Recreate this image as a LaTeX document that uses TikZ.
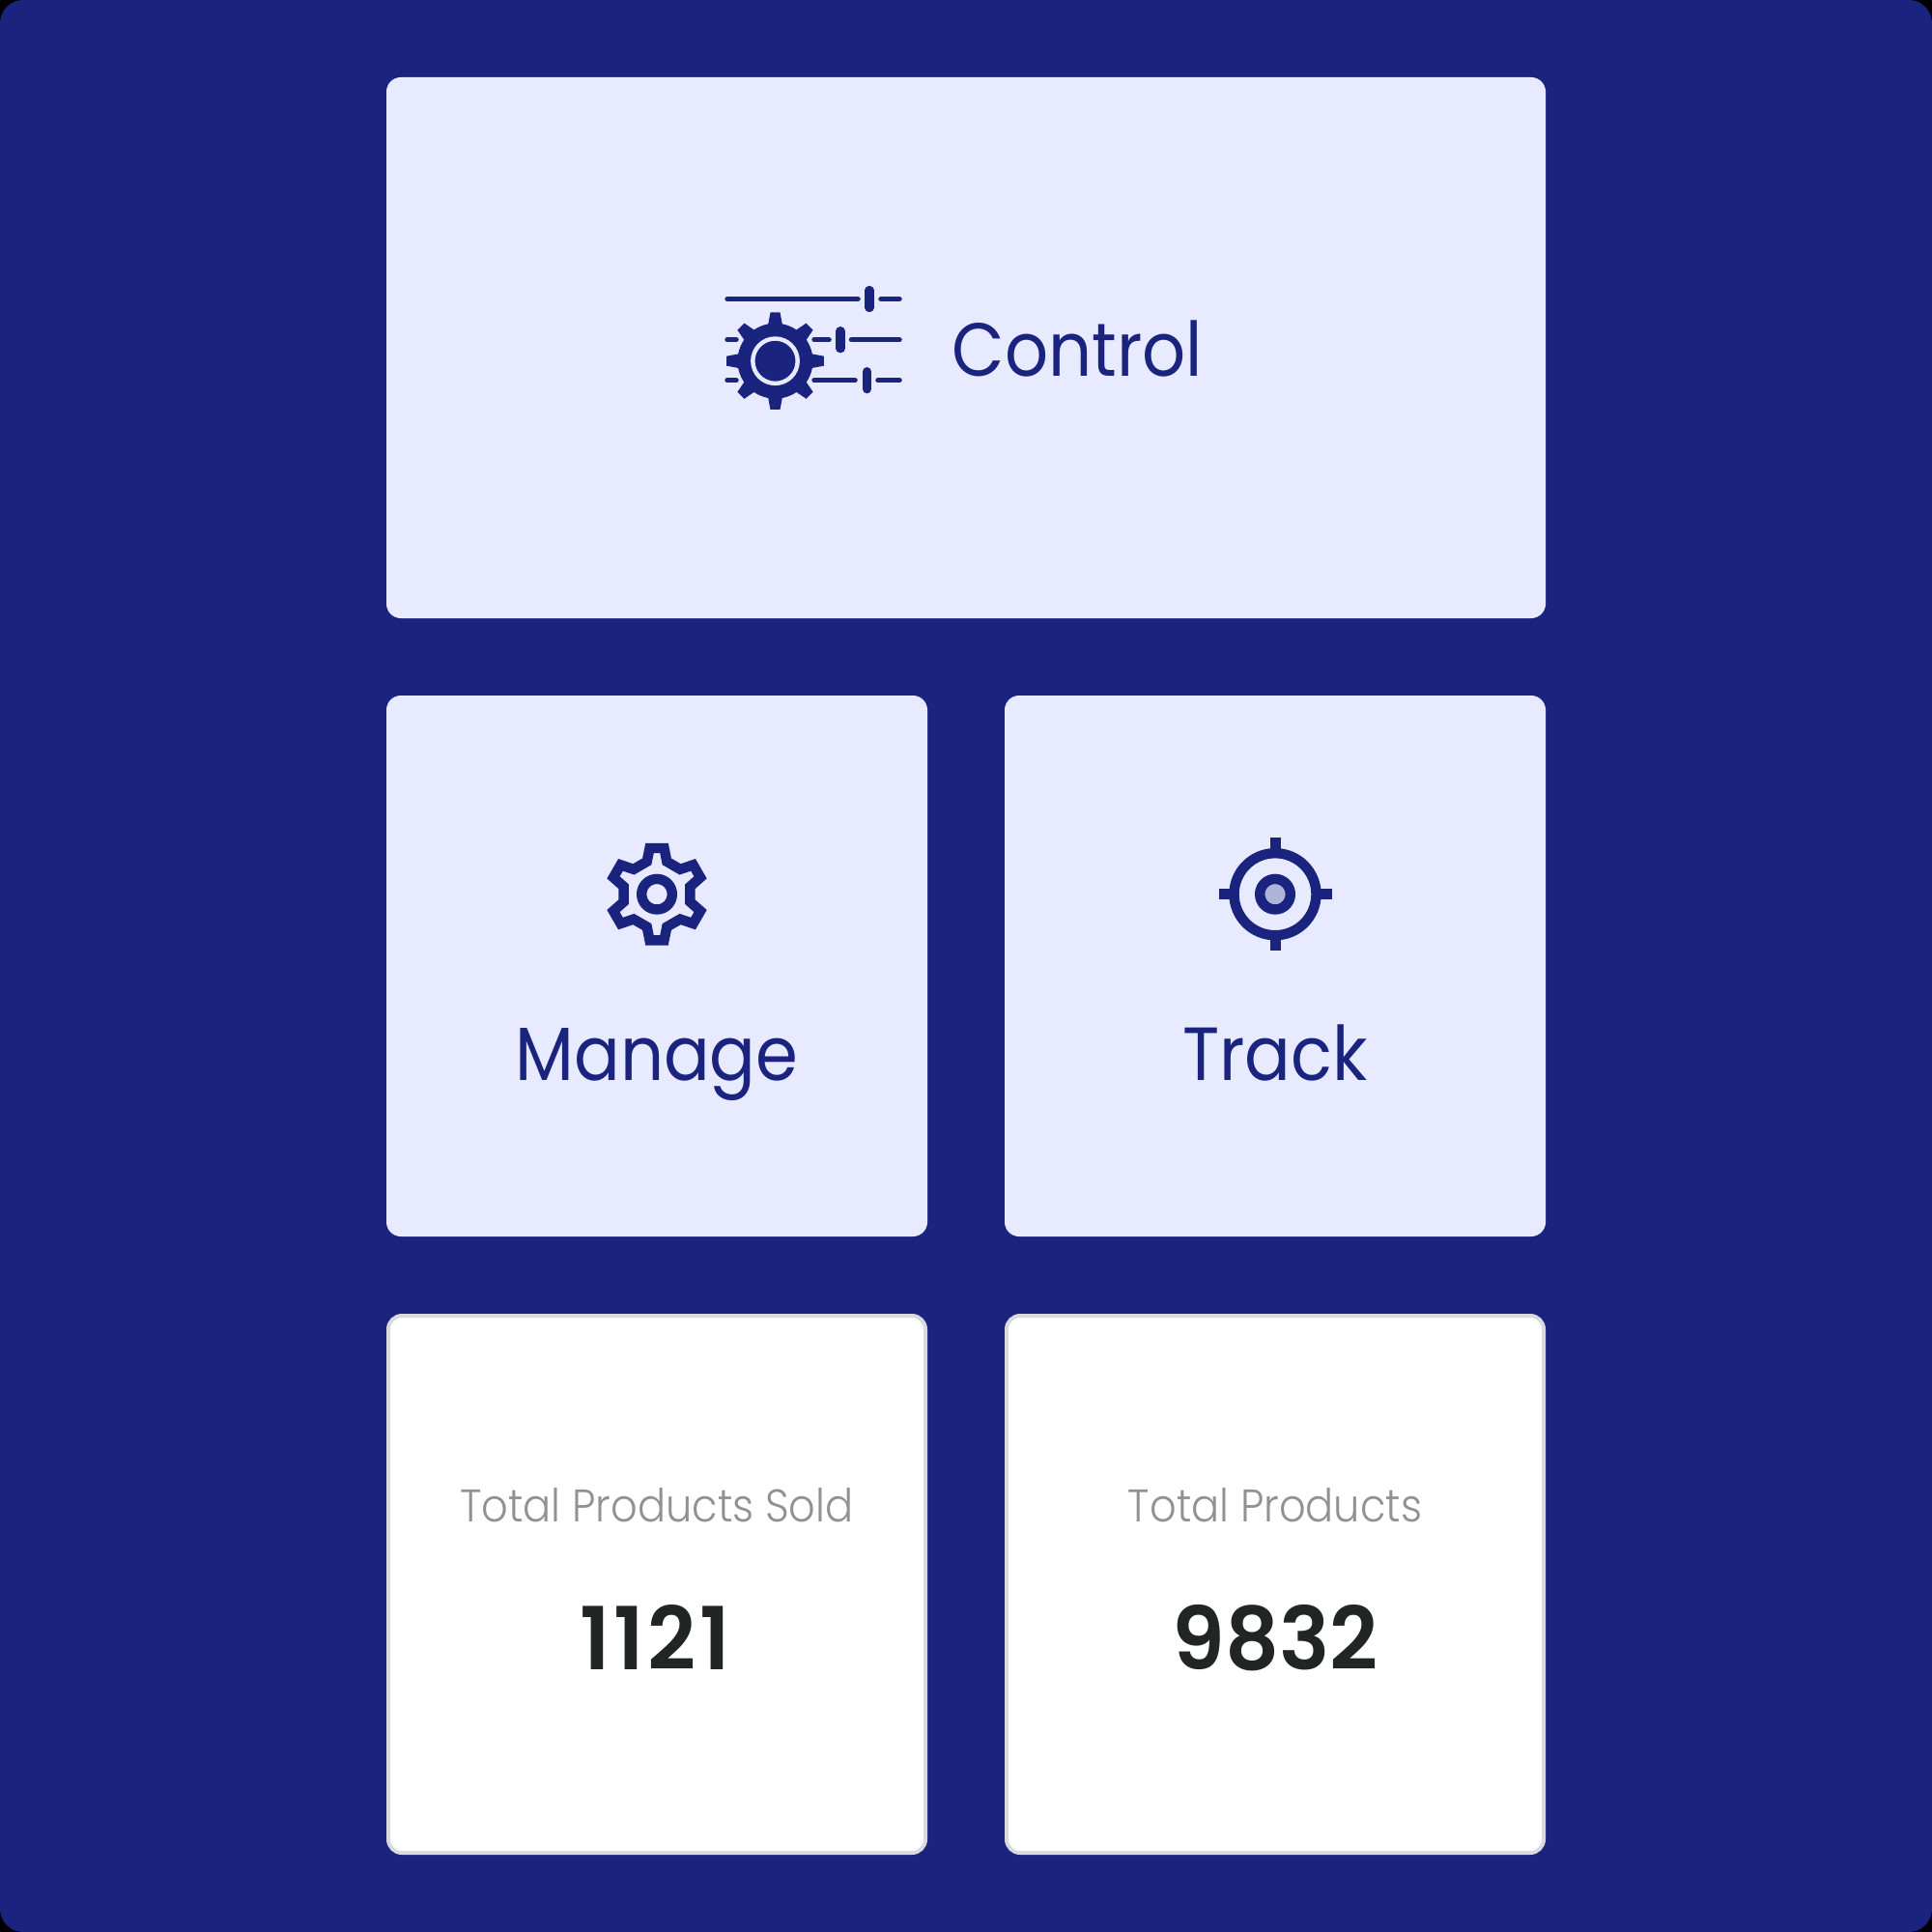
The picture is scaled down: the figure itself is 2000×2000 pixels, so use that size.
\documentclass[tikz,border=0pt]{standalone}
\usepackage{fontspec}
\setmainfont{Poppins}[UprightFont={* Light},FakeStretch=0.91]
\newfontfamily\titlefont{Poppins}[FakeStretch=0.905]
\newfontfamily\numberfont{Poppins SemiBold}[FakeStretch=0.97]
\usetikzlibrary{positioning}
\definecolor{navy}{HTML}{1A237E}
\definecolor{panelblue}{HTML}{E8EBFF}
\definecolor{softblue}{HTML}{AEB4DA}
\definecolor{cardline}{HTML}{D8DADC}
\definecolor{mutedgrey}{HTML}{8F9194}
\definecolor{numberblack}{HTML}{212526}

\begin{document}
\begin{tikzpicture}[
    x=0.5pt, y=-0.5pt,
    panel/.style={fill=panelblue, rectangle, rounded corners=7.5pt, outer sep=0pt, minimum width=280pt, minimum height=280pt},
    card/.style={draw=cardline, fill=white, line width=2pt, rectangle, rounded corners=7pt, minimum width=278pt, minimum height=278pt},
    title/.style={text=navy, anchor=base, inner sep=0pt, font=\titlefont\fontsize{39}{39}\selectfont},
    caption/.style={text=mutedgrey, anchor=base, inner sep=0pt, font=\fontsize{23.7}{24}\selectfont},
    number/.style={text=numberblack, anchor=base, inner sep=0pt, font=\numberfont\fontsize{45}{45}\selectfont},
    iconline/.style={draw=navy, line width=5.2pt, line join=miter},
    sliderline/.style={draw=navy, line width=2.75pt, line cap=round},
    sliderknob/.style={draw=navy, line width=4.65pt, line cap=round}
  ]

  \useasboundingbox (0,0) rectangle (2000,2000);
  \fill[black] (0,0) rectangle (2000,2000);
  \fill[navy, rounded corners=12pt] (0,0) rectangle (2000,2000);

  \node[panel, minimum width=600pt] (controlBox) at (1000,360) {};
  \node[panel, below right=40pt and 0pt of controlBox.south west] (manageBox) {};
  \node[panel, right=40pt of manageBox] (trackBox) {};
  \node[card, below=40pt of manageBox] (soldBox) {};
  \node[card, below=40pt of trackBox] (totalBox) {};

  \node[title] (controlText) at (1115.5,390) {Control};
  \node[title] (manageText) at (680,1118) {Manage};
  \node[title] (trackText) at (1320,1118) {Track};
  \node[caption] (soldText) at (680,1575) {Total Products Sold};
  \node[caption] (totalText) at (1320,1575) {Total Products};
  \node[number] (soldValue) at (678,1728) {\addfontfeature{LetterSpace=4}1121};
  \node[number] (totalValue) at (1320,1728) {9832};

  % sliders
  \foreach \yy/\ss/\ee/\hh in {309.5/753/888/900, 351.7/843/858/870, 393.7/843/885/897.5} {
    \draw[sliderline] (\ss,\yy) -- (\ee,\yy);
    \draw[sliderknob] (\hh,\yy-9) -- (\hh,\yy+9);
  }
  \draw[sliderline] (912,309.5) -- (931,309.5);
  \draw[sliderline] (881.5,351.7) -- (931,351.7);
  \draw[sliderline] (909,393.7) -- (931,393.7);
  \draw[sliderline] (753,351.7) -- (762,351.7);
  \draw[sliderline] (753,393.7) -- (762,393.7);

  % gear with sliders
  \begin{scope}[shift={(802.5,373.7)}]
    \fill[navy] (0,0) circle (19.5pt);
    \foreach \a in {0,45,...,315} {
      \fill[navy, rotate=\a] (-7.5,-37) -- (-5,-50.3) -- (5,-50.3) -- (7.5,-37) -- cycle;
    }
    \draw[draw=panelblue, line width=2.2pt] (0,0) circle (11.6pt);
  \end{scope}

  % gear
  \begin{scope}[shift={(680,925.7)}]
    \draw[iconline] (-10.3,-33.8)
      \foreach \a in {0,-60,...,-300} {
        -- ([rotate=\a]-10.3,-33.8) -- ([rotate=\a]-7.5,-47.7) -- ([rotate=\a]7.5,-47.7) -- ([rotate=\a]10.3,-33.8)
      } -- cycle;
    \draw[iconline] (0,0) circle (7.9pt);
  \end{scope}

  % target
  \begin{scope}[shift={(1320,925.7)}]
    \foreach \a in {0,90,180,270} {
      \draw[draw=navy, line width=5.5pt, rotate=\a] (0,-44) -- (0,-58.5);
    }
    \draw[iconline] (0,0) circle (21.25pt);
    \draw[iconline, fill=softblue] (0,0) circle (7.9pt);
  \end{scope}
\end{tikzpicture}
\end{document}
